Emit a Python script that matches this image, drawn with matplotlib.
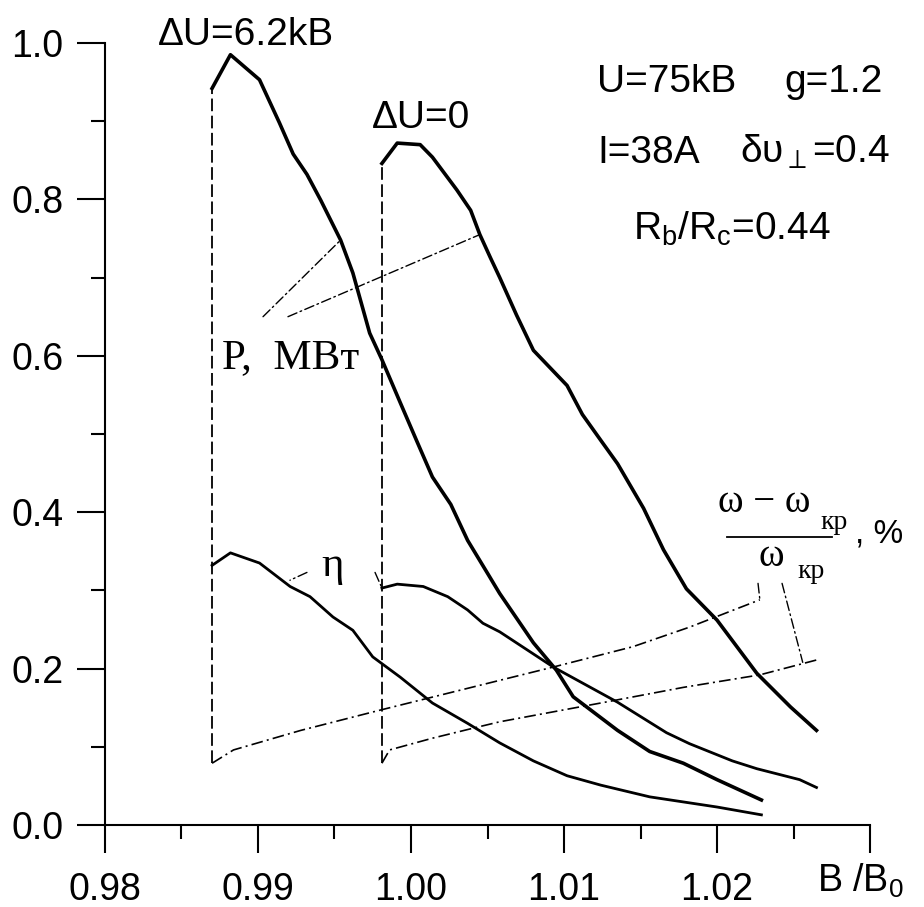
import matplotlib.pyplot as plt
from matplotlib.ticker import FixedLocator, MultipleLocator

plt.rcParams['font.family'] = ['Liberation Sans', 'DejaVu Sans']
plt.rcParams['mathtext.fontset'] = 'custom'
plt.rcParams['mathtext.rm'] = 'Liberation Sans'
plt.rcParams['mathtext.it'] = 'Liberation Sans:italic'
plt.rcParams['mathtext.bf'] = 'Liberation Sans:bold'

# output power P, MW, for dU = 6.2 kV
b_p62 = [0.9870, 0.9882, 0.9901, 0.9914, 0.9923, 0.9932, 0.9941, 0.9954, 0.9962,
         0.9967, 0.9973, 0.9981, 0.9993, 1.0004, 1.0014, 1.0026, 1.0037, 1.0058,
         1.0080, 1.0095, 1.0106, 1.0135, 1.0156, 1.0178, 1.0200, 1.0229]
p_62 = [0.942, 0.985, 0.953, 0.898, 0.858, 0.832, 0.799, 0.748, 0.706,
        0.671, 0.629, 0.595, 0.540, 0.490, 0.445, 0.410, 0.364, 0.296,
        0.233, 0.198, 0.164, 0.121, 0.094, 0.079, 0.058, 0.032]

# output power for dU = 0
b_p0 = [0.9981, 0.9991, 1.0006, 1.0014, 1.0030, 1.0039, 1.0045, 1.0052, 1.0058,
        1.0069, 1.0080, 1.0102, 1.0112, 1.0124, 1.0135, 1.0152, 1.0165, 1.0180,
        1.0200, 1.0226, 1.0248, 1.0265]
p_0 = [0.846, 0.872, 0.870, 0.854, 0.812, 0.786, 0.755, 0.725, 0.700,
       0.652, 0.607, 0.562, 0.525, 0.492, 0.462, 0.405, 0.352, 0.302,
       0.262, 0.194, 0.151, 0.121]

# efficiency
b_eta62 = [0.9870, 0.9882, 0.9901, 0.9921, 0.9934, 0.9949, 0.9962, 0.9975, 0.9993,
           1.0014, 1.0037, 1.0058, 1.0080, 1.0102, 1.0124, 1.0156, 1.0200, 1.0229]
eta_62 = [0.332, 0.348, 0.335, 0.305, 0.292, 0.266, 0.249, 0.215, 0.189,
          0.156, 0.130, 0.105, 0.082, 0.063, 0.051, 0.036, 0.023, 0.013]

b_eta0 = [0.9981, 0.9991, 1.0008, 1.0024, 1.0037, 1.0047, 1.0058, 1.0093, 1.0135,
          1.0167, 1.0182, 1.0210, 1.0226, 1.0254, 1.0265]
eta_0 = [0.303, 0.308, 0.305, 0.292, 0.275, 0.258, 0.247, 0.202, 0.157,
         0.118, 0.104, 0.082, 0.072, 0.058, 0.048]

# frequency shift (w - w_cr)/w_cr, %
b_w62 = [0.9870, 0.9884, 0.9928, 0.9980, 1.0058, 1.0093, 1.0145, 1.0182, 1.0228]
w_62 = [0.079, 0.096, 0.121, 0.147, 0.185, 0.202, 0.228, 0.253, 0.288]

b_w0 = [0.9981, 0.9986, 1.0014, 1.0041, 1.0058, 1.0124, 1.0178, 1.0228, 1.0265]
w_0 = [0.079, 0.096, 0.111, 0.124, 0.132, 0.156, 0.176, 0.192, 0.211]

x_ticks = [0.98, 0.99, 1.00, 1.01, 1.02, 1.03]
x_labels = ['0.98', '0.99', '1.00', '1.01', '1.02', '']
y_ticks = [0.0, 0.2, 0.4, 0.6, 0.8, 1.0]

fig = plt.figure(figsize=(9.24, 9.07), dpi=100)
ax = fig.add_axes([0.1136, 0.0904, 0.828, 0.8622])

dash_dot = (0, (7, 2.5, 1.2, 2.5))

ax.plot(b_p62, p_62, color='black', lw=2.6)
ax.plot(b_p0, p_0, color='black', lw=2.6)
ax.plot(b_eta62, eta_62, color='black', lw=2.0)
ax.plot(b_eta0, eta_0, color='black', lw=2.0)
ax.plot(b_w62, w_62, color='black', lw=1.2, linestyle=dash_dot)
ax.plot(b_w0, w_0, color='black', lw=1.2, linestyle=dash_dot)

# vertical start lines
for bx, lo, hi in [(b_p62[0], w_62[0], p_62[0]), (b_p0[0], w_0[0], p_0[0])]:
    ax.plot([bx, bx], [lo, hi], color='black', lw=1.3, linestyle=(0, (7, 2.5)))

ax.set_xlim(0.98, 1.03)
ax.set_ylim(0.0, 1.0)
ax.xaxis.set_major_locator(FixedLocator(x_ticks))
ax.set_xticklabels(x_labels)
ax.xaxis.set_minor_locator(MultipleLocator(0.005))
ax.set_yticks(y_ticks)
ax.set_yticklabels([f'{v:.1f}' for v in y_ticks])
ax.yaxis.set_minor_locator(MultipleLocator(0.1))

for s in ['top', 'right']:
    ax.spines[s].set_visible(False)
for s in ['left', 'bottom']:
    ax.spines[s].set_linewidth(1.5)
ax.tick_params(which='major', direction='out', length=20, width=1.5, labelsize=27)
ax.tick_params(which='minor', direction='out', length=10, width=1.5)
ax.tick_params(axis='x', which='major', pad=14)
ax.tick_params(axis='y', which='major', pad=10)

# parameter labels
txt = dict(fontsize=28, va='baseline', ha='left', clip_on=False)
ax.text(0.98346, 0.9974, 'ΔU=6.2kB', **txt)
ax.text(0.99745, 0.8913, 'ΔU=0', **txt)
ax.text(1.01216, 0.9373, 'U=75kB', **txt)
ax.text(1.02438, 0.9373, 'g=1.2', **txt)
ax.text(1.01216, 0.8465, 'I=38A', **txt)
ax.text(1.0215, 0.8465, 'δυ${}_{\\perp}$=0.4', **txt)
ax.text(1.01451, 0.748, r'R$_\mathrm{b}$/R$_\mathrm{c}$=0.44', **txt)
ax.text(1.02654, -0.0857, r'B /B$_0$', fontsize=27, va='baseline', ha='left', clip_on=False)

serif = ['Liberation Serif', 'DejaVu Serif']
ax.text(0.98765, 0.5844, 'P,  МВт', family=serif, fontsize=31, va='baseline', ha='left')
ax.text(0.99490, 0.331, 'η', family=serif, fontsize=31, va='center', ha='center')

# fraction label for frequency shift
ax.text(1.02007, 0.412, 'ω − ω', family=serif, fontsize=28, va='center', ha='left', clip_on=False)
ax.text(1.02673, 0.387, 'кр', family=serif, fontsize=20, va='center', ha='left', clip_on=False)
ax.plot([1.02065, 1.02752], [0.368, 0.368], color='black', lw=1.3, clip_on=False)
ax.text(1.02268, 0.343, 'ω', family=serif, fontsize=28, va='center', ha='left', clip_on=False)
ax.text(1.02523, 0.324, 'кр', family=serif, fontsize=20, va='center', ha='left', clip_on=False)
ax.text(1.0290, 0.361, ', %', fontsize=24, va='baseline', ha='left', clip_on=False)

# leader lines
lead = dict(arrowstyle='-', color='black', lw=1.0, linestyle=dash_dot, shrinkA=0, shrinkB=0)
ax.annotate('', xy=(b_p62[7], p_62[7]), xytext=(0.99033, 0.650), arrowprops=lead)
ax.annotate('', xy=(b_p0[6], p_0[6]), xytext=(0.99196, 0.650), arrowprops=lead)
ax.annotate('', xy=(0.99209, 0.313), xytext=(0.99320, 0.323), arrowprops=lead)
ax.annotate('', xy=(b_eta0[0], eta_0[0]), xytext=(0.99765, 0.323), arrowprops=lead)
ax.annotate('', xy=(b_w62[-1], w_62[-1]), xytext=(1.02268, 0.309), arrowprops=lead)
ax.annotate('', xy=(b_w0[-1] - 0.0009, w_0[-1] - 0.003), xytext=(1.02425, 0.309), arrowprops=lead)

fig.savefig('out.png', dpi=100)
